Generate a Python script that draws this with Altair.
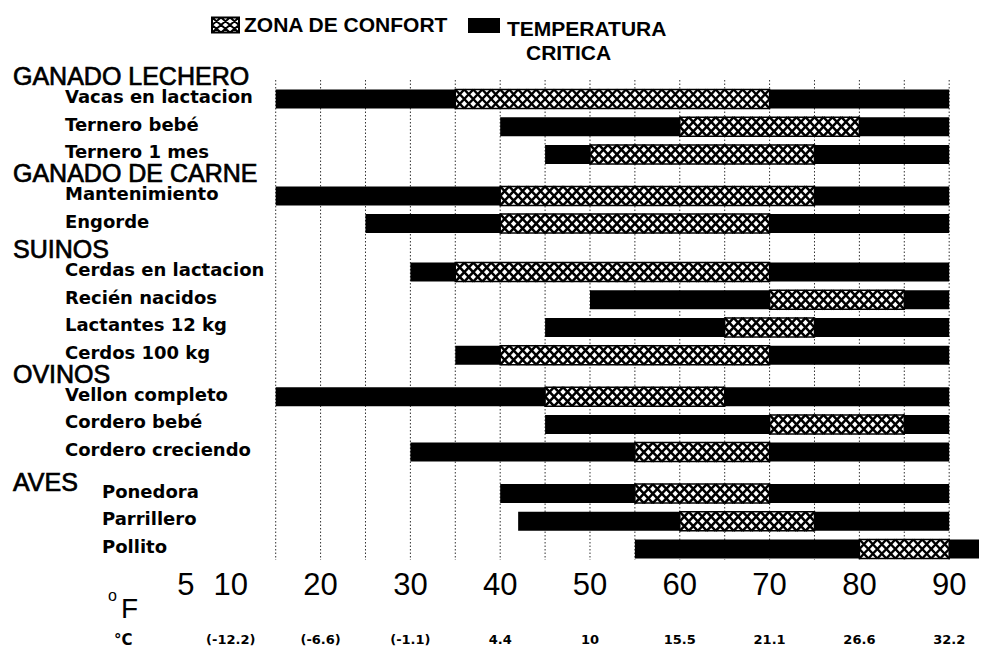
import altair as alt
import pandas as pd

# ---------------- data ----------------
animals = ["Vacas en lactacion", "Ternero bebé", "Ternero 1 mes",
           "Mantenimiento", "Engorde",
           "Cerdas en lactacion", "Recién nacidos", "Lactantes 12 kg", "Cerdos 100 kg",
           "Vellon completo", "Cordero bebé", "Cordero creciendo",
           "Ponedora", "Parrillero", "Pollito"]
groups = ["GANADO LECHERO"] * 3 + ["GANADO DE CARNE"] * 2 + ["SUINOS"] * 4 + \
         ["OVINOS"] * 3 + ["AVES"] * 3
critical_low = [15, 40, 45, 15, 25, 30, 50, 45, 35, 15, 45, 30, 40, 42, 55]
critical_high = [90, 90, 90, 90, 90, 90, 90, 90, 90, 90, 90, 90, 90, 90, 94]
comfort_low = [35, 60, 50, 40, 40, 35, 70, 65, 40, 45, 70, 55, 55, 60, 80]
comfort_high = [70, 80, 75, 75, 70, 70, 85, 75, 70, 65, 85, 70, 70, 75, 90]
headers = ["GANADO LECHERO", "GANADO DE CARNE", "SUINOS", "OVINOS", "AVES"]
f_ticks = [5, 10, 20, 30, 40, 50, 60, 70, 80, 90]
grid_f = [15, 20, 25, 30, 35, 40, 45, 50, 55, 60, 65, 70, 75, 80, 85, 90]
c_pos = [10, 20, 30, 40, 50, 60, 70, 80, 90]
c_labels = ["(-12.2)", "(-6.6)", "(-1.1)", "4.4", "10", "15.5", "21.1", "26.6", "32.2"]

# ---------------- layout of the row scale (quarter-step slots, wider gap between groups)
slots_within = 4
extra_gap = {"GANADO DE CARNE": 2, "SUINOS": 3, "OVINOS": 2, "AVES": 2}
row_domain = []
prev = None
for a, g in zip(animals, groups):
    if prev is not None:
        n_sp = slots_within - 1 + (extra_gap[g] if g != prev else 0)
        for _ in range(n_sp):
            row_domain.append(f"_sp{len(row_domain)}")
    row_domain.append(a)
    prev = g

first_of_group = {}
for a, g in zip(animals, groups):
    first_of_group.setdefault(g, a)

df = pd.DataFrame({"row": animals, "group": groups,
                   "lo": critical_low, "hi": critical_high,
                   "clo": comfort_low, "chi": comfort_high})
hdf = pd.DataFrame({"label": headers, "row": [first_of_group[h] for h in headers]})
gdf = pd.DataFrame({"f": grid_f})
tdf = pd.DataFrame({"f": f_ticks})
cdf = pd.DataFrame({"f": c_pos, "c": c_labels})
one = pd.DataFrame({"k": [0]})

# ---------------- scales ----------------
W, H = 971, 640
xs = alt.Scale(domain=[-14.81, 93.32], nice=False, zero=False)
n_slots = len(row_domain)
top_c, bot_c = 91, 541
step = (bot_c - top_c) / (n_slots - 1)
ys = alt.Scale(domain=row_domain, paddingInner=0, paddingOuter=0,
               range=[top_c - step / 2, bot_c + step / 2])


def X(field):
    return alt.X(field, type="quantitative", scale=xs, axis=None)


Y = alt.Y("row:N", scale=ys, axis=None)

BAR_H = 19
hw, hh = 4.49, BAR_H / 2
hatch_path = (f"M{-hw},{-hh}L{hw},0M{-hw},0L{hw},{hh}"
              f"M{-hw},0L{hw},{-hh}M{-hw},{hh}L{hw},0")

# legend swatch path (27 x 15)
sw, sh = 13.5, 7.5
parts = [f"M{-sw},{-sh}L{sw},{-sh}L{sw},{sh}L{-sw},{sh}Z"]
for k in range(3):
    a = -sw + 9 * k
    parts.append(f"M{a},{-sh}L{a+9},0M{a},0L{a+9},{sh}M{a},0L{a+9},{-sh}M{a},{sh}L{a+9},0")
swatch_path = "".join(parts)

LAB = "DejaVu Sans"
ARIAL = "Liberation Sans"

# ---------------- layers ----------------
grid = alt.Chart(gdf).mark_rule(color="#333", strokeWidth=1, strokeDash=[1.5, 2]).encode(
    x=X("f"), y=alt.value(72), y2=alt.value(552))

black = alt.Chart(df).mark_bar(color="black", size=BAR_H, clip=True).encode(
    x=X("lo"), x2="hi", y=Y)

comfort = alt.Chart(df).mark_bar(fill="white", stroke="black", strokeWidth=1.5,
                                 size=BAR_H).encode(x=X("clo"), x2="chi", y=Y)

hatch = alt.Chart(df).transform_calculate(
    cell="sequence(datum.clo + 0.5, datum.chi, 1)"
).transform_flatten(["cell"]).mark_point(
    shape=hatch_path, size=4, filled=False, stroke="black", strokeWidth=2.5, opacity=1
).encode(x=X("cell"), y=Y)

sub_style = dict(font=LAB, fontWeight="bold", fontSize=18, align="left",
                 baseline="middle", color="black", dy=-1)
sub_labels = alt.Chart(df).transform_filter(alt.datum.group != "AVES").mark_text(
    **sub_style).encode(x=alt.value(57), y=Y, text="row:N")
sub_aves = alt.Chart(df).transform_filter(alt.datum.group == "AVES").mark_text(
    **sub_style).encode(x=alt.value(94), y=Y, text="row:N")

head_style = dict(font=ARIAL, fontSize=25, align="left", baseline="middle",
                  color="black", stroke="black", strokeWidth=0.7)
head_main = alt.Chart(hdf).transform_filter(alt.datum.label != "AVES").mark_text(
    dy=-22, **head_style).encode(x=alt.value(5), y=Y, text="label:N")
head_aves = alt.Chart(hdf).transform_filter(alt.datum.label == "AVES").mark_text(
    dy=-11, **head_style).encode(x=alt.value(5), y=Y, text="label:N")

f_labels = alt.Chart(tdf).mark_text(
    font=ARIAL, fontSize=31, align="center", baseline="alphabetic", color="black"
).encode(x=X("f"), y=alt.value(587), text=alt.Text("f:Q"))

c_text = alt.Chart(cdf).mark_text(
    font=LAB, fontWeight="bold", fontSize=13, align="center", baseline="alphabetic",
    color="black"
).encode(x=X("f"), y=alt.value(636), text="c:N")

deg_o = alt.Chart(one).mark_text(text="o", font=ARIAL, fontSize=16, align="left",
                                 baseline="alphabetic", color="black").encode(
    x=alt.value(100), y=alt.value(593))
deg_F = alt.Chart(one).mark_text(text="F", font=ARIAL, fontSize=28, align="left",
                                 baseline="alphabetic", color="black").encode(
    x=alt.value(113), y=alt.value(610))
deg_C = alt.Chart(one).mark_text(text="°C", font=LAB, fontWeight="bold", fontSize=15,
                                 align="left", baseline="alphabetic", color="black").encode(
    x=alt.value(106), y=alt.value(637))

leg_hatch_bg = alt.Chart(one).mark_rect(fill="white").encode(
    x=alt.value(204), x2=alt.value(231), y=alt.value(9.5), y2=alt.value(24.5))
leg_hatch = alt.Chart(one).mark_point(
    shape=swatch_path, size=4, filled=False, stroke="black", strokeWidth=2, opacity=1
).encode(x=alt.value(217.5), y=alt.value(17))
leg_text1 = alt.Chart(one).mark_text(text="ZONA DE CONFORT", font=ARIAL, fontWeight="bold",
                                     fontSize=21, align="left", baseline="alphabetic",
                                     color="black").encode(
    x=alt.value(236), y=alt.value(24))
leg_black = alt.Chart(one).mark_rect(fill="black").encode(
    x=alt.value(460), x2=alt.value(492), y=alt.value(10), y2=alt.value(25))
leg_text2 = alt.Chart(one).mark_text(text="TEMPERATURA", font=ARIAL, fontWeight="bold",
                                     fontSize=21, align="left", baseline="alphabetic",
                                     color="black").encode(
    x=alt.value(499), y=alt.value(28))
leg_text3 = alt.Chart(one).mark_text(text="CRITICA", font=ARIAL, fontWeight="bold",
                                     fontSize=21, align="left", baseline="alphabetic",
                                     color="black").encode(
    x=alt.value(518), y=alt.value(52))

chart = alt.layer(
    grid, black, comfort, hatch, sub_labels, sub_aves, head_main, head_aves,
    f_labels, c_text, deg_o, deg_F, deg_C,
    leg_hatch_bg, leg_hatch, leg_text1, leg_black, leg_text2, leg_text3
).properties(
    width=W, height=H, padding=0, autosize=alt.AutoSizeParams(type="none"),
    background="white"
).configure_view(stroke=None)

chart.save("out.html", embed_options={"renderer": "svg", "actions": False})
